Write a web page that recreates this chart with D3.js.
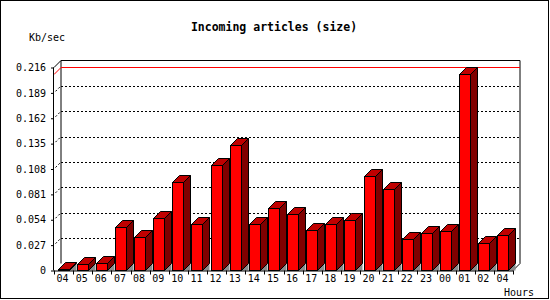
<!DOCTYPE html>
<html><head><meta charset="utf-8">
<script src="https://cdn.jsdelivr.net/npm/d3@7"></script>
<style>body{margin:0;background:#fff}svg{display:block}</style>
</head><body>
<svg id="c" width="550" height="300"></svg>
<script>
const hours = ["04","05","06","07","08","09","10","11","12","13","14","15","16","17","18","19","20","21","22","23","00","01","02","04"];
const values = [0.0012,0.0072,0.0082,0.0465,0.0360,0.0560,0.0945,0.0500,0.1125,0.1340,0.0500,0.0670,0.0605,0.0435,0.0500,0.0540,0.1010,0.0870,0.0338,0.0402,0.0423,0.2095,0.0295,0.0380];
const yTicks = [0,0.027,0.054,0.081,0.108,0.135,0.162,0.189,0.216];
const tickLabels = ["0","0.027","0.054","0.081","0.108","0.135","0.162","0.189","0.216"];
const title = "Incoming articles (size)";
const yUnit = "Kb/sec";
const xUnit = "Hours";

const svg = d3.select("#c");
const D = 7;              // 3D depth
const x0 = 54, x1 = 513;
const x = d3.scaleBand().domain(d3.range(hours.length)).range([x0, x1]).padding(0);
const y = d3.scaleLinear().domain([0, 0.216]).range([270.5, 67.5]);
const mono = "'DejaVu Sans Mono', 'Liberation Mono', monospace";

// outer border
svg.append("rect").attr("x",0.5).attr("y",0.5).attr("width",548).attr("height",298)
  .attr("fill","none").attr("stroke","#000");

// back wall frame
const bTop = y(0.216) - D, bBot = y(0) - D;
svg.append("path").attr("d", `M${x0+D},${bBot}V${bTop}H${x1+D}V${bBot}`).attr("fill","none").attr("stroke","#000");
// left top diagonal & floor diagonals
svg.append("line").attr("x1",x0).attr("y1",y(0.216)).attr("x2",x0+D).attr("y2",bTop).attr("stroke","#000");
svg.append("line").attr("x1",x1).attr("y1",y(0)).attr("x2",x1+D).attr("y2",bBot).attr("stroke","#000");

// gridlines
yTicks.slice(1, -1).forEach(v => {
  svg.append("line").attr("x1",x0+D).attr("x2",x1+D).attr("y1",Math.round(y(v)-D)+0.5).attr("y2",Math.round(y(v)-D)+0.5)
    .attr("stroke","#000").attr("stroke-dasharray","2,2");
  svg.append("line").attr("x1",x0+1.5).attr("x2",x0+D).attr("y1",y(v)-1.5).attr("y2",y(v)-D)
    .attr("stroke","#000").attr("stroke-dasharray","2,2");
});

// max line
const vmax = d3.max(values);
const ym = Math.round(y(vmax) - D) + 0.5;
svg.append("line").attr("x1",x0+D).attr("x2",x1+D).attr("y1",ym).attr("y2",ym).attr("stroke","#f00");
svg.append("line").attr("x1",x0).attr("y1",ym+D).attr("x2",x0+D).attr("y2",ym).attr("stroke","#f00");

// bars
const off = 3.5, bw = 11;
const g = svg.append("g");
values.forEach((v, i) => {
  const l = Math.round(x(i) + off) + 0.5, r = l + bw;
  const t = Math.round(y(v)) + 0.5, b = y(0);
  // floor shadow
  g.append("path").attr("d", `M${r},${b}L${r+D},${b-D}L${r+D},${b}Z`).attr("fill","#8c8c8c");
  // side
  g.append("path").attr("d", `M${r},${t}L${r+D},${t-D}L${r+D},${b-D}L${r},${b}Z`)
    .attr("fill","#800000").attr("stroke","#000");
  // top
  g.append("path").attr("d", `M${l},${t}L${l+D},${t-D}L${r+D},${t-D}L${r},${t}Z`)
    .attr("fill","#c00000").attr("stroke","#000");
  // front
  g.append("rect").attr("x",l).attr("y",t).attr("width",bw).attr("height",b-t)
    .attr("fill","#ff0000").attr("stroke","#000");
});

// y axis
const ya = d3.axisLeft(y).tickValues(yTicks).tickSize(3).tickFormat((d,i)=>tickLabels[i]);
const yg = svg.append("g").attr("transform",`translate(${x0},0)`).call(ya);
yg.select(".domain").attr("d", `M-0.5,${y(0.216)}V${y(0)}`).attr("stroke","#000");
yg.selectAll("text").attr("font-family",mono).attr("font-size","10px").attr("fill","#000").attr("x",-8);

// x axis
const xa = d3.axisBottom(x).tickSize(0).tickFormat(i=>hours[i]);
const xg = svg.append("g").attr("transform",`translate(0,${y(0)})`).call(xa);
xg.select(".domain").attr("d", `M${x0},0.5H${x1}`).attr("stroke","#000");
xg.selectAll("text").attr("font-family",mono).attr("font-size","10px").attr("fill","#000").attr("dy","0.71em").attr("y",4).attr("dx",-1);
d3.range(hours.length+1).forEach(i => {
  const xx = Math.round(x0 + i*x.bandwidth()) + 0.5;
  xg.append("line").attr("x1",xx).attr("x2",xx).attr("y1",0).attr("y2",4).attr("stroke","#000");
});

// texts
svg.append("text").attr("x",274).attr("y",31).attr("text-anchor","middle")
  .attr("font-family",mono).attr("font-weight","bold").attr("font-size","11.5px").text(title);
svg.append("text").attr("x",29).attr("y",41).attr("font-family",mono).attr("font-size","10px").text(yUnit);
svg.append("text").attr("x",504).attr("y",296).attr("font-family",mono).attr("font-size","10px").text(xUnit);
</script>
</body></html>
